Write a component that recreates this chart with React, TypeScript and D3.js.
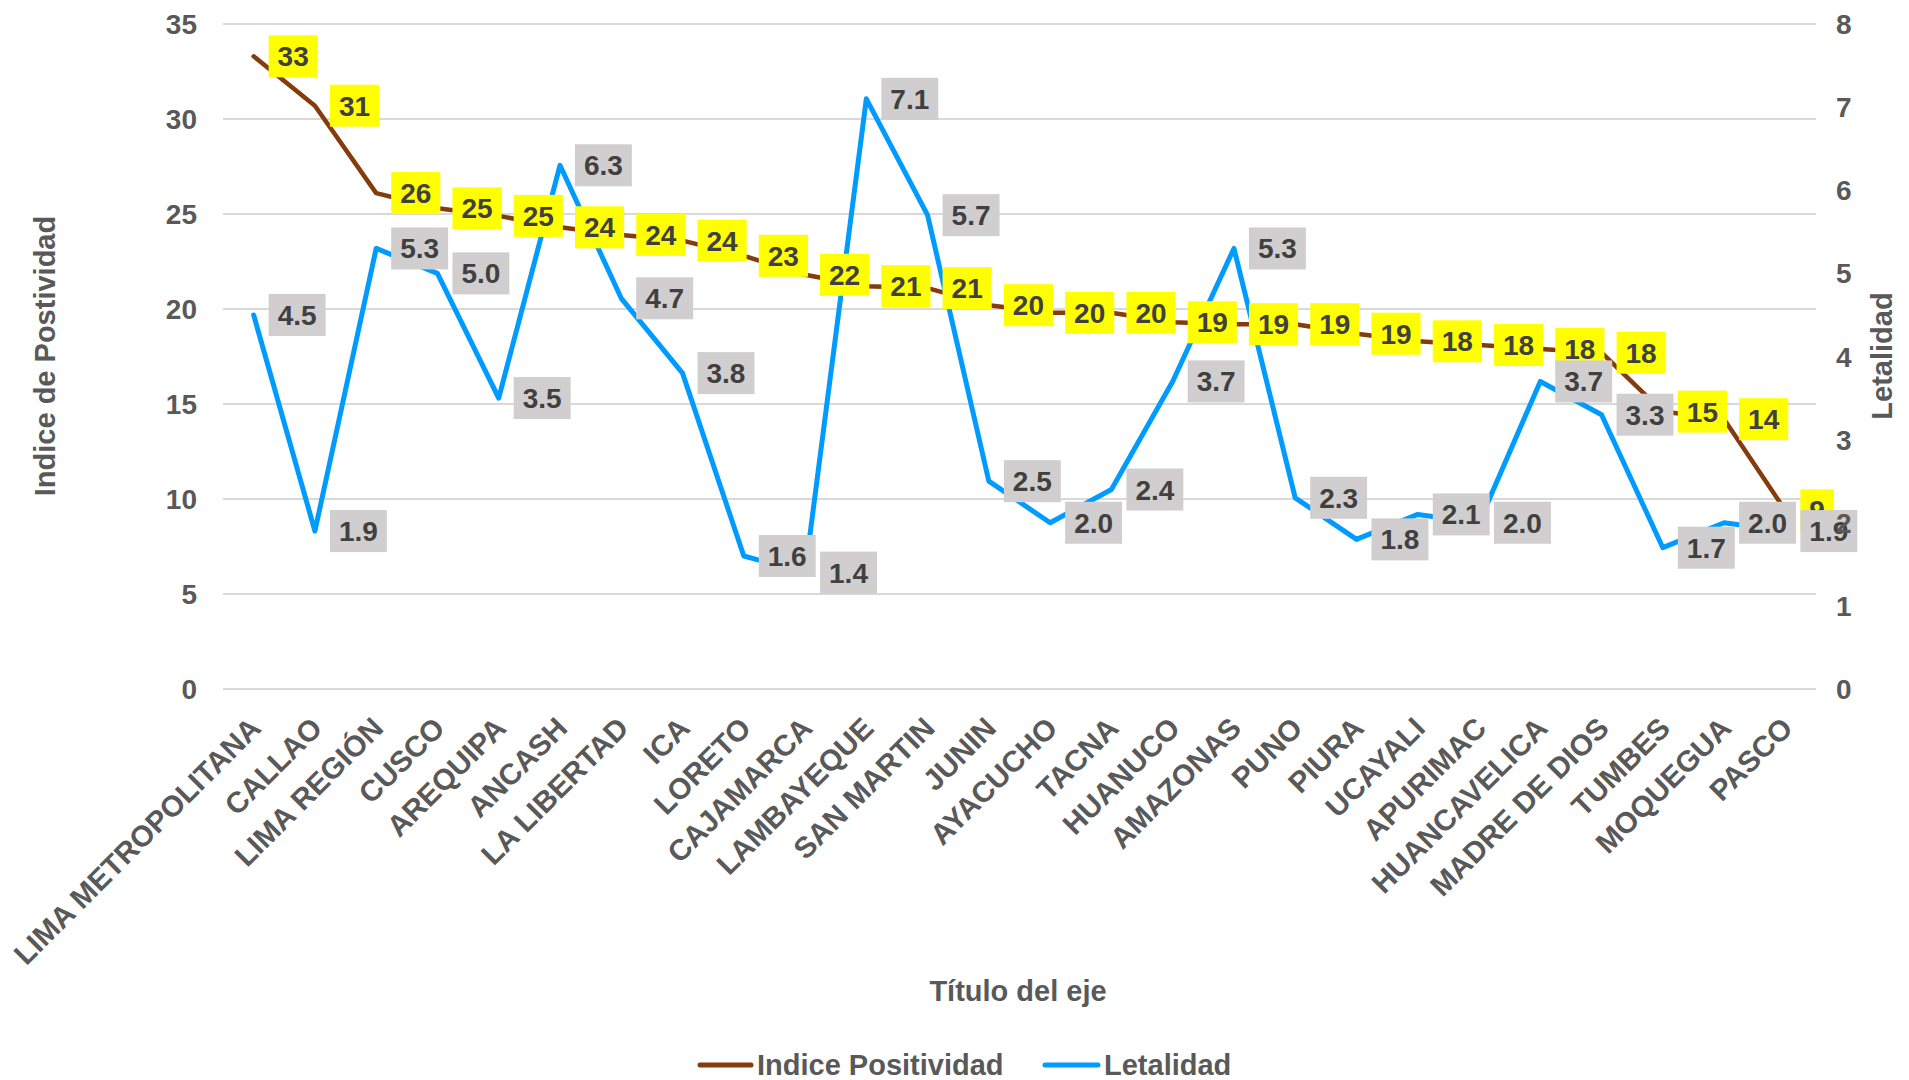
import React from "react";
import * as d3 from "d3";

const categories = [
  "LIMA METROPOLITANA", "CALLAO", "LIMA REGIÓN", "CUSCO", "AREQUIPA", "ANCASH",
  "LA LIBERTAD", "ICA", "LORETO", "CAJAMARCA", "LAMBAYEQUE", "SAN MARTIN", "JUNIN",
  "AYACUCHO", "TACNA", "HUANUCO", "AMAZONAS", "PUNO", "PIURA", "UCAYALI", "APURIMAC",
  "HUANCAVELICA", "MADRE DE DIOS", "TUMBES", "MOQUEGUA", "PASCO",
];
const positividad = [
  33.3, 30.7, 26.1, 25.3, 24.9, 24.3, 23.9, 23.6, 22.8, 21.8, 21.2, 21.1, 20.2,
  19.8, 19.8, 19.3, 19.2, 19.2, 18.7, 18.3, 18.1, 17.9, 17.7, 14.6, 14.2, 9.4,
];
const letalidad = [
  4.5, 1.9, 5.3, 5.0, 3.5, 6.3, 4.7, 3.8, 1.6, 1.4, 7.1, 5.7, 2.5, 2.0, 2.4, 3.7,
  5.3, 2.3, 1.8, 2.1, 2.0, 3.7, 3.3, 1.7, 2.0, 1.9,
];
const leftTicks = [0, 5, 10, 15, 20, 25, 30, 35];
const rightTicks = [0, 1, 2, 3, 4, 5, 6, 7, 8];

const FONT = "'Liberation Sans', Arial, sans-serif";
const GREY = "#595959";
const LABEL_TEXT = "#404040";
const BROWN = "#843C0C";
const BLUE = "#009BFF";

export default function App() {
  const W = 1909, H = 1080;
  const left = 223, right = 1816, top = 24, bottom = 689;
  const x = d3.scalePoint<string>().domain(categories).range([left, right]).padding(0.5);
  const yL = d3.scaleLinear().domain([0, 35]).range([bottom, top]);
  const yR = d3.scaleLinear().domain([0, 8]).range([bottom, top]);

  const linePos = d3.line<number>().x((_, i) => x(categories[i])!).y((d) => yL(d));
  const lineLet = d3.line<number>().x((_, i) => x(categories[i])!).y((d) => yR(d));

  const fs = 28;
  const charW = (s: string) => {
    let w = 0;
    for (const c of s) w += c === "." ? 0.278 : 0.556;
    return w * fs;
  };
  const fmt0 = d3.format(".0f");
  const fmt1 = d3.format(".1f");

  const labelBox = (cx: number, cy: number, text: string, fill: string, key: string) => {
    const tw = charW(text);
    const bw = tw + 18;
    const bx = cx + 15;
    return (
      <g key={key}>
        <rect x={bx} y={cy - 21} width={bw} height={42} fill={fill} />
        <text x={bx + bw / 2} y={cy + 10} textAnchor="middle" fontSize={fs} fontWeight="bold" fill={LABEL_TEXT}>
          {text}
        </text>
      </g>
    );
  };

  return (
    <svg width={W} height={H} style={{ position: "absolute", left: 0, top: 0, background: "#fff" }} fontFamily={FONT}>
      <rect x={0} y={0} width={W} height={H} fill="#fff" />
      {leftTicks.map((t) => (
        <line key={"g" + t} x1={left} x2={right} y1={yL(t)} y2={yL(t)} stroke="#d9d9d9" strokeWidth={2} />
      ))}
      <path d={linePos(positividad)!} fill="none" stroke={BROWN} strokeWidth={4.5} strokeLinejoin="round" strokeLinecap="round" />
      <path d={lineLet(letalidad)!} fill="none" stroke={BLUE} strokeWidth={5} strokeLinejoin="round" strokeLinecap="round" />
      {positividad.map((v, i) => labelBox(x(categories[i])!, yL(v), fmt0(v), "#FFFF00", "p" + i))}
      {letalidad.map((v, i) => labelBox(x(categories[i])!, yR(v), fmt1(v), "#D0CECE", "l" + i))}
      {leftTicks.map((t) => (
        <text key={"lt" + t} x={197} y={yL(t) + 10} textAnchor="end" fontSize={fs} fontWeight="bold" fill={GREY}>
          {t}
        </text>
      ))}
      {rightTicks.map((t) => (
        <text key={"rt" + t} x={1836} y={yR(t) + 10} textAnchor="start" fontSize={fs} fontWeight="bold" fill={GREY}>
          {t}
        </text>
      ))}
      {categories.map((c) => (
        <text
          key={"c" + c}
          transform={`translate(${x(c)! + 9},${730}) rotate(-45)`}
          textAnchor="end"
          fontSize={29.5}
          fontWeight="bold"
          fill={GREY}
        >
          {c}
        </text>
      ))}
      <text transform="translate(55,356) rotate(-90)" textAnchor="middle" fontSize={29} fontWeight="bold" fill={GREY}>
        Indice de Postividad
      </text>
      <text transform="translate(1892,356) rotate(-90)" textAnchor="middle" fontSize={29} fontWeight="bold" fill={GREY}>
        Letalidad
      </text>
      <text x={1018} y={1001} textAnchor="middle" fontSize={29} fontWeight="bold" fill={GREY}>
        Título del eje
      </text>
      <line x1={700} x2={751} y1={1065} y2={1065} stroke={BROWN} strokeWidth={5} strokeLinecap="round" />
      <text x={757} y={1075} fontSize={29} fontWeight="bold" fill={GREY}>Indice Positividad</text>
      <line x1={1045} x2={1098} y1={1065} y2={1065} stroke={BLUE} strokeWidth={5} strokeLinecap="round" />
      <text x={1104} y={1075} fontSize={29} fontWeight="bold" fill={GREY}>Letalidad</text>
    </svg>
  );
}
